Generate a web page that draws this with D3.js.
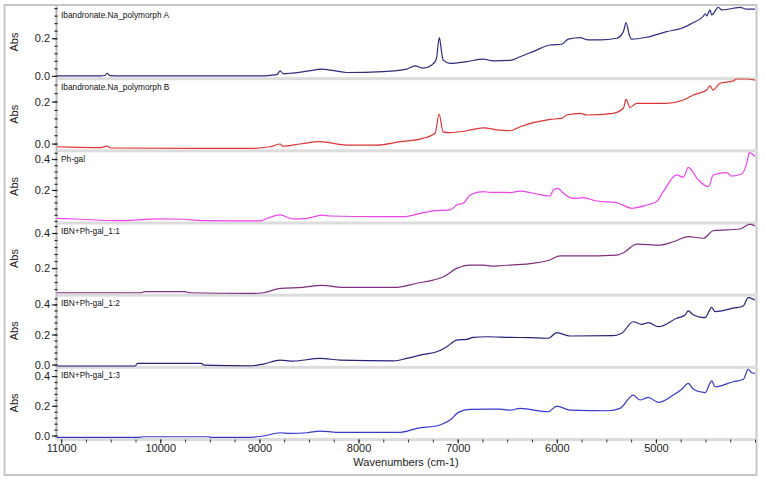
<!DOCTYPE html>
<html>
<head>
<meta charset="utf-8">
<script src="https://cdn.jsdelivr.net/npm/d3@7"></script>
<style>
  body { margin: 0; background: #fff; }
  text { font-family: Arial, "Liberation Sans", sans-serif; }
</style>
</head>
<body>
<script>
// Spectra: [wavenumber (cm-1), absorbance]
var polyA = [
  [11042, 0], [10600, 0], [10560, 0.002], [10536, 0.014], [10510, 0.002], [10400, 0],
  [9000, 0], [8890, 0.003], [8820, 0.008], [8791, 0.027], [8760, 0.012], [8690, 0.014],
  [8520, 0.025], [8371, 0.036], [8250, 0.028], [8119, 0.018], [7752, 0.023], [7513, 0.036],
  [7430, 0.053], [7349, 0.041], [7261, 0.058], [7215, 0.09], [7185, 0.203], [7160, 0.12],
  [7147, 0.085], [7077, 0.067], [6908, 0.076], [6744, 0.089], [6643, 0.08], [6471, 0.082],
  [6370, 0.102], [6239, 0.129], [6068, 0.164], [5950, 0.168], [5883, 0.195], [5765, 0.203],
  [5685, 0.191], [5563, 0.191], [5395, 0.2], [5328, 0.235], [5301, 0.283], [5270, 0.22],
  [5244, 0.195], [5092, 0.205], [4891, 0.235], [4739, 0.253], [4622, 0.283], [4560, 0.3],
  [4525, 0.315], [4500, 0.33], [4487, 0.318], [4454, 0.35], [4437, 0.324], [4370, 0.364],
  [4336, 0.35], [4219, 0.359], [4151, 0.364], [4084, 0.354], [4000, 0.354]
];
var polyB = [
  [11042, -0.015], [10900, -0.017], [10600, -0.019], [10536, -0.012], [10500, -0.021],
  [9100, -0.023], [8892, -0.015], [8791, -0.002], [8761, -0.012], [8590, -0.002],
  [8388, 0.009], [8119, -0.007], [7816, -0.007], [7581, 0.009], [7349, 0.025], [7228, 0.049],
  [7187, 0.14], [7147, 0.056], [7077, 0.052], [6908, 0.061], [6744, 0.075], [6572, 0.064],
  [6471, 0.061], [6370, 0.08], [6068, 0.115], [5950, 0.12], [5899, 0.136], [5765, 0.144],
  [5698, 0.136], [5432, 0.144], [5328, 0.168], [5301, 0.21], [5261, 0.172], [5193, 0.191],
  [4891, 0.191], [4723, 0.207], [4622, 0.231], [4487, 0.255], [4454, 0.274], [4424, 0.255],
  [4353, 0.287], [4219, 0.298], [4185, 0.307], [4084, 0.307], [4000, 0.302]
];
var phGal = [
  [11042, 0.017], [10809, 0.011], [10405, 0.002], [10032, 0.013], [9770, 0.011], [9585, 0.002],
  [8993, 0.0], [8963, 0.006], [8791, 0.039], [8660, 0.013], [8522, 0.017], [8371, 0.037],
  [8287, 0.032], [7816, 0.028], [7548, 0.028], [7346, 0.054], [7248, 0.065], [7077, 0.071],
  [7009, 0.103], [6942, 0.114], [6875, 0.168], [6741, 0.189], [6673, 0.185], [6572, 0.185],
  [6471, 0.183], [6370, 0.192], [6239, 0.179], [6068, 0.161], [6035, 0.2], [5987, 0.211],
  [5934, 0.179], [5833, 0.146], [5732, 0.15], [5597, 0.129], [5395, 0.118], [5244, 0.082],
  [5092, 0.103], [4992, 0.125], [4925, 0.189], [4790, 0.297], [4723, 0.282], [4673, 0.346],
  [4572, 0.265], [4471, 0.221], [4421, 0.297], [4285, 0.312], [4235, 0.29], [4134, 0.303],
  [4080, 0.38], [4057, 0.441], [4000, 0.415]
];
var ibn11 = [
  [11042, 0.059], [10200, 0.059], [10153, 0.065], [9750, 0.065], [9700, 0.059], [9094, 0.055],
  [8963, 0.059], [8791, 0.084], [8559, 0.09], [8371, 0.101], [8156, 0.09], [7614, 0.09],
  [7412, 0.113], [7248, 0.131], [7144, 0.15], [7009, 0.198], [6875, 0.217], [6741, 0.217],
  [6640, 0.211], [6572, 0.213], [6471, 0.217], [6239, 0.227], [6068, 0.246], [5967, 0.27],
  [5765, 0.269], [5395, 0.274], [5328, 0.287], [5193, 0.337], [4958, 0.331], [4824, 0.35],
  [4673, 0.379], [4521, 0.37], [4421, 0.413], [4151, 0.423], [4050, 0.451], [4000, 0.44]
];
var ibn12 = [
  [11042, -0.01], [10254, -0.01], [10230, 0.008], [9585, 0.008], [9560, -0.003], [9094, -0.008],
  [8963, 0.003], [8791, 0.03], [8660, 0.023], [8388, 0.041], [8186, 0.03], [7648, 0.025],
  [7513, 0.041], [7346, 0.068], [7211, 0.085], [7110, 0.119], [7009, 0.163], [6908, 0.168],
  [6842, 0.181], [6706, 0.185], [6471, 0.181], [6270, 0.179], [6085, 0.175], [6000, 0.212],
  [5866, 0.19], [5429, 0.192], [5345, 0.208], [5228, 0.285], [5143, 0.268], [5076, 0.279],
  [4975, 0.252], [4790, 0.308], [4706, 0.33], [4673, 0.357], [4622, 0.33], [4504, 0.312],
  [4437, 0.381], [4403, 0.352], [4219, 0.375], [4118, 0.39], [4068, 0.445], [4000, 0.43]
];
var ibn13 = [
  [11042, -0.012], [10203, -0.012], [10180, -0.008], [9514, -0.008], [9490, -0.012],
  [9094, -0.012], [8963, -0.003], [8791, 0.019], [8690, 0.015], [8522, 0.019], [8388, 0.03],
  [8219, 0.022], [7581, 0.022], [7412, 0.048], [7177, 0.071], [7077, 0.104], [6993, 0.156],
  [6875, 0.176], [6706, 0.178], [6572, 0.178], [6471, 0.171], [6370, 0.183], [6085, 0.16],
  [6000, 0.198], [5866, 0.171], [5480, 0.167], [5362, 0.183], [5228, 0.272], [5160, 0.239],
  [5076, 0.257], [4975, 0.223], [4824, 0.272], [4739, 0.311], [4673, 0.351], [4622, 0.311],
  [4504, 0.288], [4437, 0.368], [4403, 0.328], [4219, 0.362], [4118, 0.378], [4068, 0.445],
  [4033, 0.422], [4000, 0.418]
];

var titles = ["Ibandronate.Na_polymorph A", "Ibandronate.Na_polymorph B", "Ph-gal",
  "IBN+Ph-gal_1:1", "IBN+Ph-gal_1:2", "IBN+Ph-gal_1:3"];
var yTickLabels = [[0, 0.2], [0, 0.2], [0.2, 0.4], [0.2, 0.4], [0, 0.2, 0.4], [0, 0.2, 0.4]];
var xTickLabels = [11000, 10000, 9000, 8000, 7000, 6000, 5000];

var series = [polyA, polyB, phGal, ibn11, ibn12, ibn13];
var colors = ["#2e2e80", "#dd3535", "#ee44ee", "#7e2e80", "#24247c", "#3838cc"];
// absorbance range shown in each panel (bottom, top)
var yDomains = [[-0.012, 0.371], [-0.032, 0.311], [-0.010, 0.456],
  [0.048, 0.46], [-0.015, 0.465], [-0.023, 0.462]];

var svgWidth = 765, svgHeight = 481;
var margin = { top: 6, left: 57, right: 10, bottom: 42 };
var plotRight = svgWidth - margin.right;
var plotBottom = svgHeight - margin.bottom;
var panelH = (plotBottom - margin.top) / series.length;

var svg = d3.select("body").append("svg")
  .attr("width", svgWidth)
  .attr("height", svgHeight);

// outer frame
svg.append("rect")
  .attr("x", 4.5).attr("y", 5)
  .attr("width", 752).attr("height", 470)
  .attr("fill", "none")
  .attr("stroke", "#c8c8c8")
  .attr("stroke-width", 2);

// left axis line (drawn first so the tick marks sit on top of it)
svg.append("rect")
  .attr("x", margin.left - 1.5).attr("y", margin.top)
  .attr("width", 2).attr("height", plotBottom - margin.top)
  .attr("fill", "#b8b8b8");

var x = d3.scaleLinear().domain([11042, 4000]).range([margin.left, plotRight]);

series.forEach(function (data, i) {
  var top = margin.top + i * panelH;
  var bot = top + panelH;
  var y = d3.scaleLinear().domain(yDomains[i]).range([bot, top]);

  // panel separator
  svg.append("rect")
    .attr("x", margin.left).attr("y", bot - 1)
    .attr("width", plotRight - margin.left + 2).attr("height", 3)
    .attr("fill", "#dcdcdc");

  svg.append("clipPath").attr("id", "clip" + i)
    .append("rect")
    .attr("x", margin.left).attr("y", top)
    .attr("width", plotRight - margin.left).attr("height", panelH);

  svg.append("path")
    .datum(data)
    .attr("clip-path", "url(#clip" + i + ")")
    .attr("fill", "none")
    .attr("stroke", colors[i])
    .attr("stroke-width", 1.2)
    .attr("stroke-linejoin", "round")
    .attr("d", d3.line()
      .curve(d3.curveMonotoneX)
      .x(function (d) { return x(d[0]); })
      .y(function (d) { return y(d[1]); }));

  // minor ticks every 0.04
  var minor = d3.range(Math.ceil(yDomains[i][0] / 0.04), Math.floor(yDomains[i][1] / 0.04) + 1)
    .map(function (k) { return k * 0.04; });
  svg.append("g")
    .attr("transform", "translate(" + (margin.left + 0.5) + ",0)")
    .call(d3.axisLeft(y).tickValues(minor).tickSize(3).tickFormat(""))
    .call(function (g) { g.select(".domain").remove(); })
    .call(function (g) { g.selectAll("line").attr("stroke", "#222").attr("stroke-width", 1.2); });

  svg.append("g")
    .attr("transform", "translate(" + margin.left + ",0)")
    .call(d3.axisLeft(y).tickValues(yTickLabels[i]).tickSize(5).tickPadding(2).tickFormat(d3.format(".1f")))
    .call(function (g) { g.select(".domain").remove(); })
    .call(function (g) {
      g.selectAll("line").attr("stroke", "#222").attr("stroke-width", 1.2);
      g.selectAll("text").attr("font-size", 11).attr("fill", "#222").style("font-family", "Arial, 'Liberation Sans', sans-serif");
    });

  svg.append("text")
    .attr("x", margin.left + 4)
    .attr("y", top + 11.5)
    .attr("font-size", 8.3)
    .attr("fill", "#111")
    .text(titles[i]);

  svg.append("text")
    .attr("transform", "translate(18," + (top + panelH / 2) + ") rotate(-90)")
    .attr("text-anchor", "middle")
    .attr("font-size", 11)
    .attr("fill", "#222")
    .text("Abs");
});

// x axis
svg.append("g")
  .attr("transform", "translate(0," + (plotBottom + 0.5) + ")")
  .call(d3.axisBottom(x).tickValues(d3.range(4000, 11001, 250)).tickSize(3).tickFormat(""))
  .call(function (g) { g.select(".domain").remove(); })
  .call(function (g) { g.selectAll("line").attr("stroke", "#333"); });

svg.append("g")
  .attr("transform", "translate(0," + (plotBottom + 0.5) + ")")
  .call(d3.axisBottom(x).tickValues(xTickLabels).tickSize(4).tickPadding(1).tickFormat(d3.format("d")))
  .call(function (g) { g.select(".domain").remove(); })
  .call(function (g) {
    g.selectAll("line").attr("stroke", "#222");
    g.selectAll("text").attr("font-size", 11).attr("fill", "#222").style("font-family", "Arial, 'Liberation Sans', sans-serif");
  });

svg.append("text")
  .attr("x", (margin.left + plotRight) / 2)
  .attr("y", 466)
  .attr("text-anchor", "middle")
  .attr("font-size", 11)
  .attr("fill", "#222")
  .text("Wavenumbers (cm-1)");
</script>
</body>
</html>
